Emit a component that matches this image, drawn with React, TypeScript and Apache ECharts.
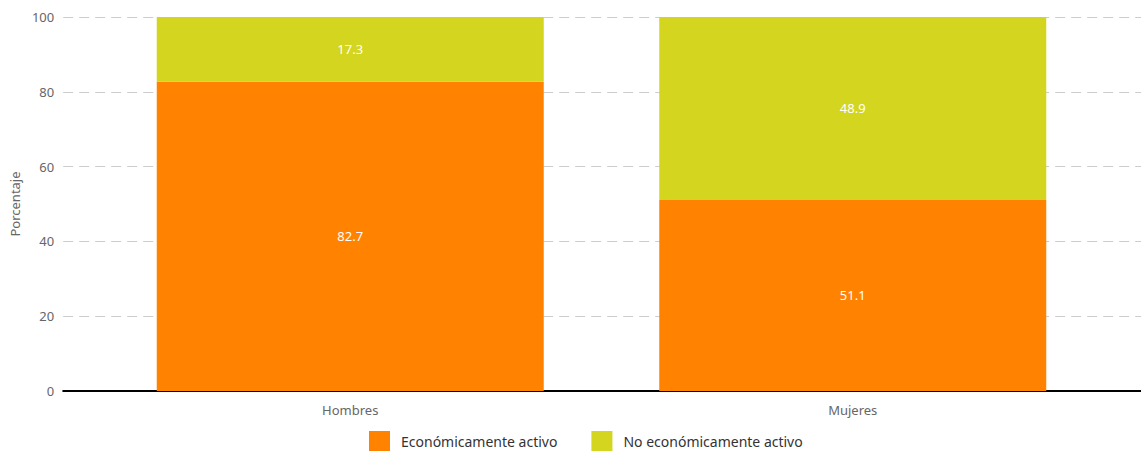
import React, { useEffect, useRef } from "react";
import * as echarts from "echarts";

const categories = ["Hombres", "Mujeres"];
const activo = [82.7, 51.1];
const noActivo = [17.3, 48.9];
const seriesNames = ["Económicamente activo", "No económicamente activo"];
const colors = ["#ff8300", "#d3d51f"];

const FONT = "'Noto Sans', 'Open Sans', sans-serif";

export default function App() {
  const ref = useRef<HTMLDivElement>(null);
  useEffect(() => {
    if (!ref.current) return;
    const chart = echarts.init(ref.current, undefined, { renderer: "svg" });
    const labelStyle = {
      show: true,
      position: "inside" as const,
      color: "#ffffff",
      fontSize: 13,
      fontFamily: FONT,
    };
    chart.setOption({
      animation: false,
      textStyle: { fontFamily: FONT },
      grid: [
        { left: 62, right: 0, top: 17, bottom: 61, containLabel: false },
        { left: 99, right: 37, top: 17, bottom: 61, containLabel: false },
      ],
      legend: {
        left: 369,
        top: 431,
        padding: 0,
        itemWidth: 21,
        itemHeight: 20,
        itemGap: 34,
        icon: "rect",
        data: seriesNames,
        textStyle: { color: "#333", fontSize: 14, fontFamily: FONT, padding: [0, 0, 0, 6] },
      },
      xAxis: [
        {
          type: "category",
          gridIndex: 0,
          data: categories,
          axisLine: { show: true, lineStyle: { color: "#000", width: 2 } },
          axisTick: { show: false },
          axisLabel: { show: false },
          splitLine: { show: false },
        },
        {
          type: "category",
          gridIndex: 1,
          data: categories,
          axisLine: { show: false },
          axisTick: { show: false },
          axisLabel: { color: "#666", fontSize: 13, margin: 12, fontFamily: FONT },
        },
      ],
      yAxis: [
        {
          type: "value",
          gridIndex: 0,
          min: 0,
          max: 100,
          interval: 20,
          name: "Porcentaje",
          nameLocation: "middle",
          nameGap: 40,
          nameTextStyle: { color: "#666", fontSize: 13, fontFamily: FONT },
          axisLine: { show: false },
          axisTick: { show: false },
          axisLabel: { color: "#666", fontSize: 13, margin: 9, fontFamily: FONT },
          splitLine: { show: true, lineStyle: { color: "#cccccc", type: [10, 6], width: 1 } },
        },
        {
          type: "value",
          gridIndex: 1,
          min: 0,
          max: 100,
          interval: 20,
          axisLine: { show: false },
          axisTick: { show: false },
          axisLabel: { show: false },
          splitLine: { show: false },
        },
      ],
      series: [
        {
          name: seriesNames[0],
          type: "bar",
          xAxisIndex: 1,
          yAxisIndex: 1,
          stack: "total",
          barWidth: 387,
          data: activo,
          itemStyle: { color: colors[0] },
          label: labelStyle,
        },
        {
          name: seriesNames[1],
          type: "bar",
          xAxisIndex: 1,
          yAxisIndex: 1,
          stack: "total",
          barWidth: 387,
          data: noActivo,
          itemStyle: { color: colors[1] },
          label: labelStyle,
        },
      ],
    });
    return () => chart.dispose();
  }, []);
  return (
    <div
      ref={ref}
      style={{ position: "absolute", left: 0, top: 0, width: 1141, height: 452 }}
    />
  );
}
